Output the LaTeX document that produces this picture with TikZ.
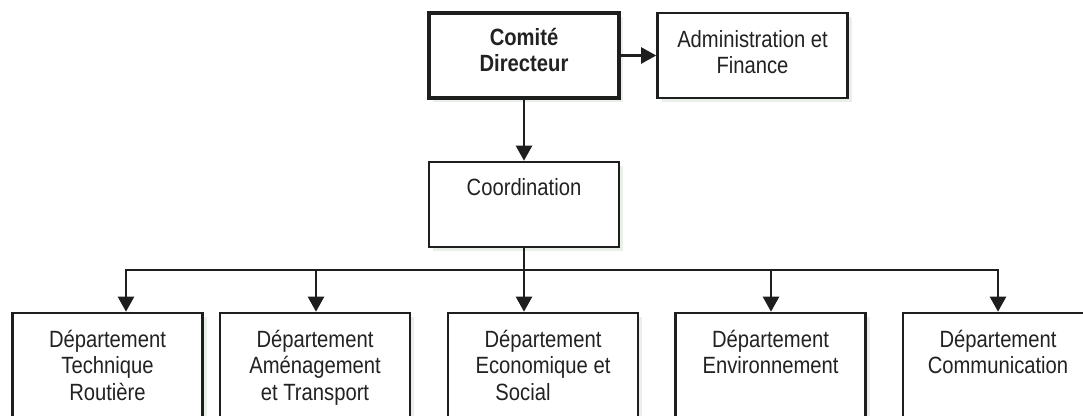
\documentclass[tikz,border=0pt]{standalone}
\usepackage{fontspec}
\setmainfont{Liberation Sans}[FakeStretch=0.86]
\usetikzlibrary{arrows.meta,shadows}
\definecolor{ink}{HTML}{1E1E1E}
\definecolor{txt}{HTML}{222222}
\definecolor{shade}{HTML}{E9F0E9}
\newcommand\stk[1]{\begin{tabular}[t]{@{}c@{}}#1\end{tabular}}
\begin{document}
\begin{tikzpicture}[x=1pt,y=-1pt,
  box/.style={draw=ink, line width=2.6pt, fill=white, inner sep=0pt,
    minimum width=190pt, minimum height=85pt,
    drop shadow={shadow xshift=4pt, shadow yshift=-4pt, fill=shade, opacity=1}},
  topbox/.style={box, line width=3.6pt},
  deptbox/.style={box, minimum height=170pt},
  lbl/.style={inner sep=0pt, anchor=base, text=txt,
    font=\fontsize{23.5pt}{26.7pt}\selectfont},
  conn/.style={draw=ink, line width=2.4pt},
  arr/.style={conn, -{Triangle[width=16pt,length=15pt]}}
]
\path[use as bounding box] (0,0) rectangle (1083,415);
\clip (0,0) rectangle (1083,415);

% boxes
\node[topbox] (cd) at (524,55.5) {};
\node[box] (af) at (752.5,55.5) {};
\node[box] (co) at (524,204.5) {};
\node[deptbox] (d1) at (107.5,398) {};
\node[deptbox] (d2) at (315,398) {};
\node[deptbox] (d3) at (543,398) {};
\node[deptbox] (d4) at (770.5,398) {};
\node[deptbox] (d5) at (998,398) {};

% labels
\node[lbl, font=\fontsize{23.5pt}{26.7pt}\selectfont\bfseries] (cdt) at (524,45) {\stk{Comité\\Directeur}};
\node[lbl] (aft) at (752.5,47) {\stk{Administration et\\Finance}};
\node[lbl] (cot) at (524,195) {Coordination};
\node[lbl] (d1t) at (107.5,347) {\stk{Département\\Technique\\Routière}};
\node[lbl] (d2t) at (315,347) {\stk{Département\\Aménagement\\et Transport}};
\node[lbl] (d3t) at (543,347) {\stk{Département\\Economique et\\Social\hspace*{40pt}}};
\node[lbl] (d4t) at (770.5,347) {\stk{Département\\Environnement}};
\node[lbl] (d5t) at (998,347) {\stk{Département\\Communication}};

% connectors
\draw[arr] (cd.east) -- (af.west);
\draw[arr] (cd.south) -- (co.north);
\coordinate (j) at (524,270);
\draw[conn] (co.south) -- (j);
\draw[arr] (j) -| ([xshift=18.5pt]d1.north);
\draw[arr] (j) -| ([xshift=1pt]d2.north);
\draw[arr] (j) -- ([xshift=-19pt]d3.north);
\draw[arr] (j) -| ([xshift=0.5pt]d4.north);
\draw[arr] (j) -| (d5.north);
\end{tikzpicture}
\end{document}
